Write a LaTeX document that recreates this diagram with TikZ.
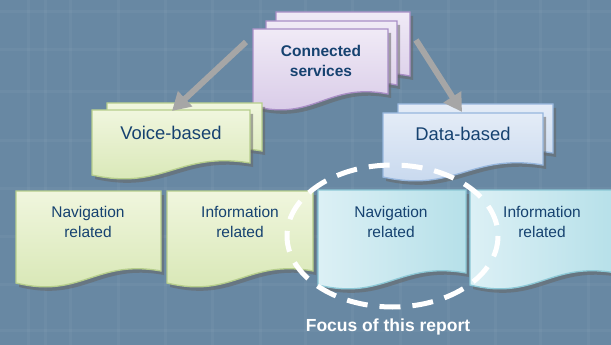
\documentclass[tikz,border=0pt]{standalone}
\usepackage{fontspec}
\setmainfont{Liberation Sans}
\usetikzlibrary{arrows.meta}
\definecolor{bgc}{RGB}{104,136,163}
\definecolor{txtc}{RGB}{22,66,112}
\definecolor{grT}{RGB}{240,246,222}
\definecolor{grB}{RGB}{214,230,178}
\definecolor{grD}{RGB}{182,206,140}
\definecolor{puT}{RGB}{240,234,246}
\definecolor{puB}{RGB}{214,200,230}
\definecolor{puD}{RGB}{168,142,198}
\definecolor{blT}{RGB}{228,236,247}
\definecolor{blB}{RGB}{196,214,237}
\definecolor{blD}{RGB}{150,182,221}
\definecolor{tlT}{RGB}{220,240,245}
\definecolor{tlB}{RGB}{182,224,233}
\definecolor{tlD}{RGB}{140,200,214}
\newcommand{\docp}[4]{(#1,#2) -- (#3,#2) -- (#3,#4-12) .. controls ({#1+0.55*(#3-#1)},#4-24) and ({#1+0.45*(#3-#1)},#4+16) .. (#1,#4) -- cycle}
\tikzset{
  greenpage/.style={draw=grD, line width=1.3pt, top color=grT, bottom color=grB},
  purplepage/.style={draw=puD, line width=1.3pt, top color=puT, bottom color=puB},
  bluepage/.style={draw=blD, line width=1.3pt, top color=blT, bottom color=blB},
  tealpage/.style={draw=tlD, line width=1.3pt, left color=tlT, right color=tlB},
  pshadow/.style={fill=black!60, opacity=0.55, shift={(3,4)}},
  lbl/.style={align=center, text=txtc, font=\fontsize{15.5}{20}\selectfont},
  biglbl/.style={align=center, text=txtc, font=\fontsize{18.4}{22}\selectfont},
  toplbl/.style={align=center, text=txtc, font=\bfseries\fontsize{15.5}{20}\selectfont},
  garrow/.style={draw=black!35, line width=6pt, -{Triangle[length=18pt,width=20pt]}},
  focusring/.style={draw=white, line width=5pt, dash pattern=on 21pt off 12pt},
  gridline/.style={draw=white, opacity=0.04, line width=3pt}
}
\begin{document}
\begin{tikzpicture}[x=1pt,y=-1pt]
\useasboundingbox (0,0) rectangle (611,345);
\fill[bgc] (0,0) rectangle (611,345);
\foreach \gx in {28,45,70,118,165,212,260,305,352,400,448,495,540,588}
  \draw[gridline] (\gx,0) -- (\gx,345);
\foreach \gy in {12,50,92,140,188,236,284,330}
  \draw[gridline] (0,\gy) -- (611,\gy);
% top stack
\fill[pshadow] \docp{276}{12}{410}{88};
\draw[purplepage] \docp{276}{12}{410}{88};
\fill[pshadow] \docp{266}{21}{397}{97};
\draw[purplepage] \docp{266}{21}{397}{97};
\fill[pshadow] \docp{253}{29}{388}{106};
\draw[purplepage] \docp{253}{29}{388}{106};
\node[toplbl] (cs) at (321,61) {Connected\\services};
% voice
\fill[pshadow] \docp{107}{103}{262}{163};
\draw[greenpage] \docp{107}{103}{262}{163};
\fill[pshadow] \docp{92}{110}{250}{175};
\draw[greenpage] \docp{92}{110}{250}{175};
\node[biglbl] (voice) at (171,133) {Voice-based};
% data
\fill[pshadow] \docp{398}{104}{553}{165};
\draw[bluepage] \docp{398}{104}{553}{165};
\fill[pshadow] \docp{383}{113}{543}{177};
\draw[bluepage] \docp{383}{113}{543}{177};
\node[biglbl] (data) at (463,134) {Data-based};
% bottom row
\fill[pshadow] \docp{16}{191}{161}{283};
\draw[greenpage] \docp{16}{191}{161}{283};
\node[lbl] (nav1) at (88,222) {Navigation\\related};
\fill[pshadow] \docp{167}{191}{313}{283};
\draw[greenpage] \docp{167}{191}{313}{283};
\node[lbl] (info1) at (240,222) {Information\\related};
\fill[pshadow] \docp{318}{190}{466}{285};
\draw[tealpage] \docp{318}{190}{466}{285};
\node[lbl] (nav2) at (391,222) {Navigation\\related};
\fill[pshadow] \docp{470}{190}{616}{285};
\draw[tealpage] \docp{470}{190}{616}{285};
\node[lbl] (info2) at (542,222) {Information\\related};
% arrows
\coordinate (a1s) at (246,42);
\coordinate (a1e) at (172,111);
\coordinate (a2s) at (416,40);
\coordinate (a2e) at (462,112);
\draw[garrow] (a1s) -- (a1e);
\draw[garrow] (a2s) -- (a2e);
% focus ring
\coordinate (ringc) at (392.5,236);
\draw[focusring] (ringc) ellipse [x radius=105.5, y radius=71];
\node[font=\bfseries\fontsize{17.5}{20}\selectfont, text=white] (focus) at (388,327) {Focus of this report};
\end{tikzpicture}
\end{document}
